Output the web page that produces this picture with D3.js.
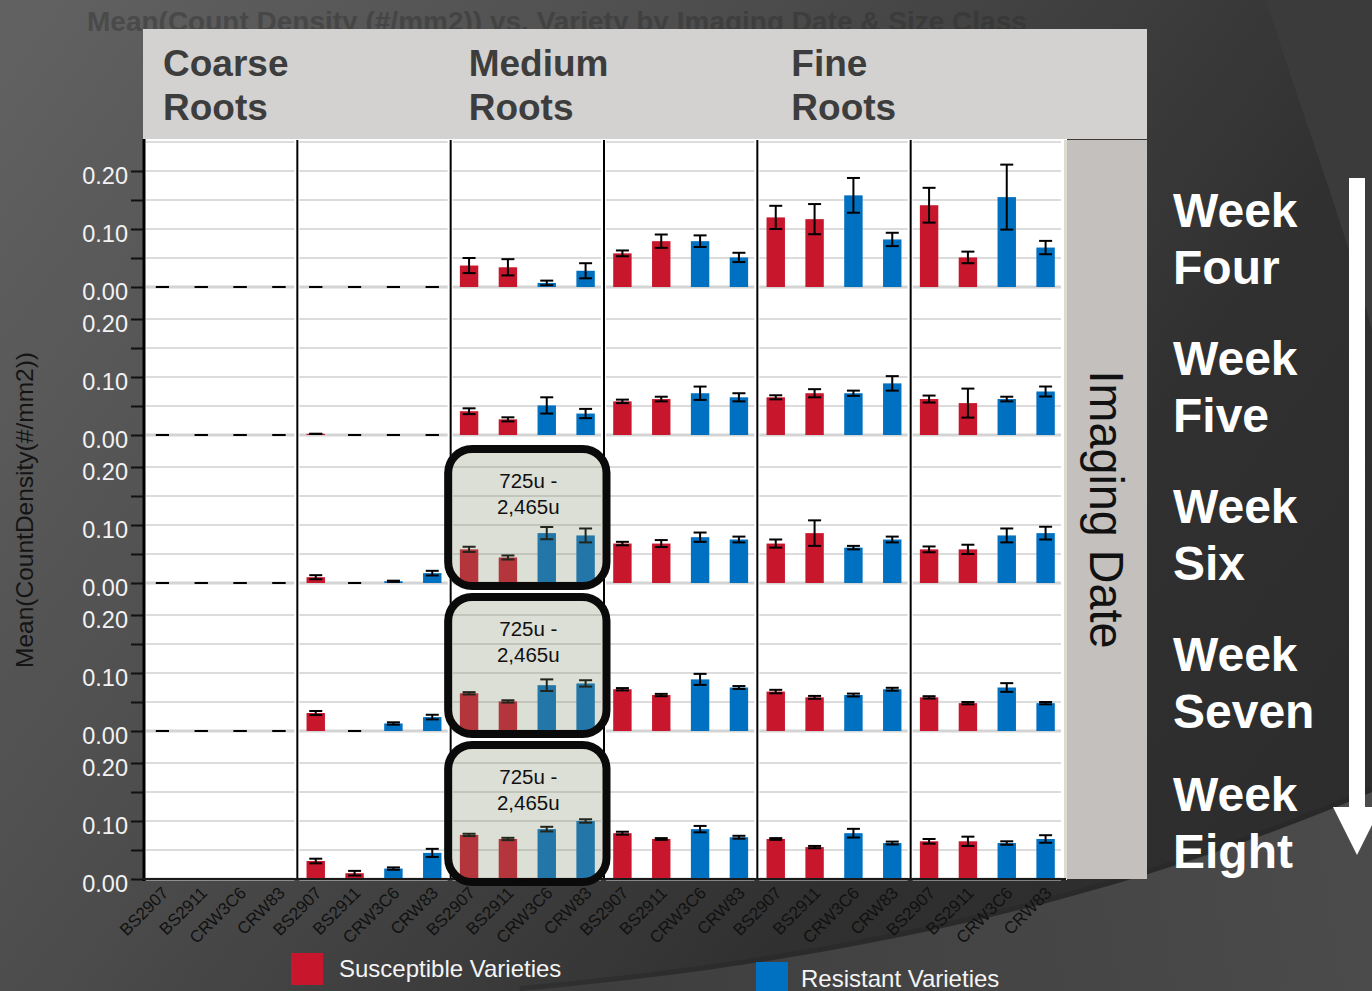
<!DOCTYPE html>
<html>
<head>
<meta charset="utf-8">
<script src="https://cdn.jsdelivr.net/npm/d3@7"></script>
<style>
  html, body { margin: 0; padding: 0; background: #3a3a3a; }
  svg { display: block; font-family: "Liberation Sans", Arial, Helvetica, sans-serif; }
</style>
</head>
<body>
<svg id="chart" width="1372" height="991"></svg>
<script>
// ---- data -------------------------------------------------------------
const varieties = ["BS2907", "BS2911", "CRW3C6", "CRW83"];
const varietyGroup = ["Susceptible", "Susceptible", "Resistant", "Resistant"];
const sizeClasses = ["Coarse Roots", "Medium Roots", "Fine Roots"];
const columnKeys = ["c1", "c2", "c3", "c4", "c5", "c6"];   // two size sub-classes per class
const weeks = ["Week Four", "Week Five", "Week Six", "Week Seven", "Week Eight"];
const gridValues = [0, 0.05, 0.10, 0.15, 0.20];
const tickLabelValues = [0, 0.10, 0.20];
const legendLabels = ["Susceptible Varieties", "Resistant Varieties"];
const highlightLabel = ["725u -", "2,465u"];
const highlightWeeks = ["Week Six", "Week Seven", "Week Eight"];
const highlightColumn = "c3";

// mean count density, one row per size column, one value per variety
const week4Mean = [
  [0, 0, 0, 0],
  [0, 0, 0, 0],
  [0.037, 0.034, 0.007, 0.028],
  [0.058, 0.079, 0.079, 0.051],
  [0.120, 0.117, 0.158, 0.082],
  [0.141, 0.051, 0.155, 0.068]
];
const week4Err = [
  [0, 0, 0, 0],
  [0, 0, 0, 0],
  [0.013, 0.014, 0.004, 0.013],
  [0.005, 0.0115, 0.010, 0.008],
  [0.020, 0.026, 0.030, 0.0115],
  [0.030, 0.010, 0.056, 0.0115]
];
const week5Mean = [
  [0, 0, 0, 0],
  [0.002, 0, 0, 0],
  [0.041, 0.027, 0.051, 0.037],
  [0.058, 0.062, 0.072, 0.065],
  [0.065, 0.072, 0.072, 0.089],
  [0.062, 0.055, 0.062, 0.075]
];
const week5Err = [
  [0, 0, 0, 0],
  [0, 0, 0, 0],
  [0.005, 0.0035, 0.014, 0.008],
  [0.003, 0.004, 0.0115, 0.007],
  [0.0035, 0.007, 0.0045, 0.0125],
  [0.006, 0.025, 0.004, 0.0086]
];
const week6Mean = [
  [0, 0, 0, 0],
  [0.010, 0, 0.003, 0.017],
  [0.058, 0.044, 0.086, 0.082],
  [0.068, 0.068, 0.079, 0.075],
  [0.068, 0.086, 0.061, 0.075],
  [0.058, 0.058, 0.082, 0.086]
];
const week6Err = [
  [0, 0, 0, 0],
  [0.0035, 0, 0.001, 0.004],
  [0.0045, 0.0035, 0.0105, 0.012],
  [0.003, 0.006, 0.008, 0.005],
  [0.007, 0.022, 0.003, 0.005],
  [0.005, 0.008, 0.012, 0.011]
];
const week7Mean = [
  [0, 0, 0, 0],
  [0.031, 0, 0.013, 0.024],
  [0.065, 0.051, 0.079, 0.082],
  [0.072, 0.062, 0.089, 0.075],
  [0.068, 0.058, 0.062, 0.072],
  [0.058, 0.048, 0.075, 0.048]
];
const week7Err = [
  [0, 0, 0, 0],
  [0.0035, 0, 0.002, 0.004],
  [0.002, 0.002, 0.010, 0.0055],
  [0.002, 0.002, 0.0095, 0.0025],
  [0.003, 0.0025, 0.0025, 0.0025],
  [0.002, 0.002, 0.0075, 0.002]
];
const week8Mean = [
  [0, 0, 0, 0],
  [0.031, 0.010, 0.018, 0.045],
  [0.076, 0.069, 0.086, 0.100],
  [0.079, 0.069, 0.086, 0.072],
  [0.069, 0.055, 0.079, 0.062],
  [0.065, 0.065, 0.062, 0.069]
];
const week8Err = [
  [0, 0, 0, 0],
  [0.004, 0.004, 0.002, 0.007],
  [0.002, 0.002, 0.004, 0.003],
  [0.0025, 0.0015, 0.0055, 0.0025],
  [0.0015, 0.002, 0.0075, 0.0025],
  [0.004, 0.008, 0.003, 0.0065]
];

const meansByWeek = [week4Mean, week5Mean, week6Mean, week7Mean, week8Mean];
const errsByWeek = [week4Err, week5Err, week6Err, week7Err, week8Err];

// flat records for drawing
const records = [];
weeks.forEach((w, wi) => {
  columnKeys.forEach((c, ci) => {
    varieties.forEach((v, vi) => {
      records.push({ week: w, col: c, variety: v, group: varietyGroup[vi],
                     mean: meansByWeek[wi][ci][vi], err: errsByWeek[wi][ci][vi] });
    });
  });
});

// ---- layout -----------------------------------------------------------
const W = 1372, H = 991;
const colorOf = d3.scaleOrdinal().domain(["Susceptible", "Resistant"]).range(["#c8172c", "#0070c0"]);

const col = d3.scaleBand().domain(columnKeys).range([144, 1064]);
const row = d3.scaleBand().domain(weeks).range([140, 880]);
const x = d3.scaleBand().domain(varieties).range([0, col.bandwidth()])
  .paddingInner(0.526).paddingOuter(0.237);
const yOf = week => {
  const zero = row(week) + row.bandwidth() - 1;
  return d3.scaleLinear().domain([0, 0.25]).range([zero, zero - 145]);
};

const svg = d3.select("#chart");
const defs = svg.append("defs");

// ---- slide background ---------------------------------------------------
const bg = defs.append("linearGradient").attr("id", "bgGrad")
  .attr("gradientUnits", "userSpaceOnUse")
  .attr("x1", 0).attr("y1", 0).attr("x2", W).attr("y2", 1000);
bg.append("stop").attr("offset", 0).attr("stop-color", "#626262");
bg.append("stop").attr("offset", 0.35).attr("stop-color", "#4d4d4d");
bg.append("stop").attr("offset", 0.7).attr("stop-color", "#303030");
bg.append("stop").attr("offset", 1).attr("stop-color", "#2b2b2b");

const swoosh = defs.append("linearGradient").attr("id", "swooshGrad")
  .attr("gradientUnits", "userSpaceOnUse")
  .attr("x1", 500).attr("y1", 991).attr("x2", W).attr("y2", 850);
swoosh.append("stop").attr("offset", 0).attr("stop-color", "#3d3d3d");
swoosh.append("stop").attr("offset", 1).attr("stop-color", "#4b4b4b");

svg.append("rect").attr("width", W).attr("height", H).attr("fill", "url(#bgGrad)");
svg.append("path")
  .attr("d", "M1266,0 C1300,110 1340,210 1372,330 L1372,0 Z")
  .attr("fill", "#3b3b3b");
svg.append("path")
  .attr("d", "M520,991 C820,965 1110,905 1372,792")
  .attr("fill", "none").attr("stroke", "#232323").attr("stroke-width", 10).attr("opacity", 0.35);
svg.append("path")
  .attr("d", "M520,991 C820,965 1110,905 1372,792 L1372,991 Z")
  .attr("fill", "url(#swooshGrad)");

// faint slide title behind the header band
svg.append("text")
  .attr("x", 87).attr("y", 31)
  .attr("font-size", 28).attr("font-weight", "bold")
  .attr("fill", "#2a2a2a").attr("opacity", 0.38)
  .text("Mean(Count Density (#/mm2)) vs. Variety by Imaging Date & Size Class");

// ---- header band and side strip -----------------------------------------
svg.append("rect").attr("x", 143).attr("y", 29).attr("width", 1004).attr("height", 110)
  .attr("fill", "#d3d2d0");
const headerOffset = [19, 18, 34];
sizeClasses.forEach((s, i) => {
  const t = svg.append("text")
    .attr("font-size", 37).attr("font-weight", "bold").attr("fill", "#3d3d3d");
  s.split(" ").forEach((word, k) => {
    t.append("tspan").attr("x", col(columnKeys[i * 2]) + headerOffset[i])
      .attr("y", 76 + k * 44).text(word);
  });
});

// plot background
svg.append("rect").attr("x", 143).attr("y", 139).attr("width", 924).attr("height", 741)
  .attr("fill", "#ffffff");

svg.append("rect").attr("x", 1067).attr("y", 140).attr("width", 80).attr("height", 739)
  .attr("fill", "#c3c0bd");
svg.append("text")
  .attr("transform", `translate(1090, ${(140 + 879) / 2}) rotate(90)`)
  .attr("text-anchor", "middle")
  .attr("font-size", 48).attr("fill", "#111")
  .attr("textLength", 278).attr("lengthAdjust", "spacingAndGlyphs")
  .text("Imaging Date");

// ---- panels -------------------------------------------------------------
const panels = svg.append("g");
weeks.forEach(w => {
  const y = yOf(w);
  columnKeys.forEach(c => {
    const g = panels.append("g");
    const x0 = col(c) + 2, x1 = col(c) + col.bandwidth() - 3;
    const lines = w === weeks[0] ? gridValues.concat([0.25]) : gridValues;
    g.selectAll("line.grid").data(lines).join("line")
      .attr("class", "grid")
      .attr("x1", x0).attr("x2", x1)
      .attr("y1", d => y(d)).attr("y2", d => y(d))
      .attr("stroke", d => d === 0 ? "#d4d4d4" : "#dcdcdc")
      .attr("stroke-width", d => d === 0 ? 3 : 2);

    const data = records.filter(r => r.week === w && r.col === c);
    g.selectAll("rect.bar").data(data).join("rect")
      .attr("class", "bar")
      .attr("x", d => col(c) + x(d.variety))
      .attr("width", x.bandwidth())
      .attr("y", d => y(d.mean))
      .attr("height", d => y(0) - y(d.mean))
      .attr("fill", d => colorOf(d.group));

    const cx = d => col(c) + x(d.variety) + x.bandwidth() / 2;
    const eb = g.selectAll("g.err").data(data).join("g").attr("class", "err")
      .attr("stroke", "#000").attr("stroke-width", 2);
    eb.append("line")
      .attr("x1", cx).attr("x2", cx)
      .attr("y1", d => y(d.mean + d.err)).attr("y2", d => y(Math.max(0, d.mean - d.err)));
    eb.append("line")
      .attr("x1", d => cx(d) - 6.5).attr("x2", d => cx(d) + 6.5)
      .attr("y1", d => y(d.mean + d.err)).attr("y2", d => y(d.mean + d.err));
    eb.append("line")
      .attr("x1", d => cx(d) - 6.5).attr("x2", d => cx(d) + 6.5)
      .attr("y1", d => y(Math.max(0, d.mean - d.err))).attr("y2", d => y(Math.max(0, d.mean - d.err)));
  });

  // left value axis for this row
  const axis = d3.axisLeft(y).tickValues(gridValues).tickSize(12).tickPadding(3)
    .tickFormat(d => tickLabelValues.includes(d) ? d3.format(".2f")(d) : "");
  const ag = svg.append("g").attr("transform", "translate(143,0)").call(axis);
  ag.select(".domain").remove();
  ag.selectAll(".tick line").attr("stroke", "#111").attr("stroke-width", 2);
  ag.selectAll(".tick text").attr("fill", "#f2f2f2").attr("font-size", 23.5)
    .attr("font-family", "Liberation Sans, Arial, sans-serif").attr("dy", "0.52em");
});

// column separators and frame
svg.selectAll("line.sep").data(columnKeys.slice(1)).join("line")
  .attr("class", "sep")
  .attr("x1", d => col(d)).attr("x2", d => col(d))
  .attr("y1", 140).attr("y2", 879)
  .attr("stroke", "#000").attr("stroke-width", 2);
svg.append("line").attr("x1", 144).attr("x2", 144).attr("y1", 139).attr("y2", 881)
  .attr("stroke", "#000").attr("stroke-width", 3);
svg.append("line").attr("x1", 1065.5).attr("x2", 1065.5).attr("y1", 140).attr("y2", 879)
  .attr("stroke", "#dedbd0").attr("stroke-width", 3);
svg.append("line").attr("x1", 143).attr("x2", 1066).attr("y1", 879).attr("y2", 879)
  .attr("stroke", "#1a1a1a").attr("stroke-width", 2);

// variety labels under the bottom row
const xl = svg.append("g");
columnKeys.forEach(c => {
  varieties.forEach(v => {
    xl.append("text")
      .attr("transform", `translate(${col(c) + x(v) + x.bandwidth() / 2 + 7}, 894) rotate(-45)`)
      .attr("text-anchor", "end")
      .attr("font-size", 17).attr("fill", "#111")
      .text(v);
  });
});

// ---- highlighted size class panels ----------------------------------------
highlightWeeks.forEach(w => {
  const y = yOf(w);
  const zero = y(0);
  const left = col(highlightColumn);
  svg.append("rect")
    .attr("x", left - 2.5).attr("y", zero - 134)
    .attr("width", col.bandwidth() + 5).attr("height", 137)
    .attr("rx", 24).attr("ry", 24)
    .attr("fill", "rgb(126,137,104)").attr("fill-opacity", 0.27)
    .attr("stroke", "#0a0a0a").attr("stroke-width", 8);
  highlightLabel.forEach((t, k) => {
    svg.append("text")
      .attr("x", left + col.bandwidth() / 2 + 1)
      .attr("y", zero - 95 + k * 26)
      .attr("text-anchor", "middle")
      .attr("font-size", 20.5).attr("fill", "#111")
      .text(t);
  });
});

// ---- y title -------------------------------------------------------------
svg.append("text")
  .attr("transform", `translate(33, 510) rotate(-90)`)
  .attr("text-anchor", "middle")
  .attr("font-size", 24).attr("fill", "#141414")
  .attr("textLength", 316).attr("lengthAdjust", "spacingAndGlyphs")
  .text("Mean(CountDensity(#/mm2))");

// ---- week labels and time arrow ---------------------------------------------
weeks.forEach((w, i) => {
  const zero = yOf(w)(0);
  const t = svg.append("text").attr("font-size", 48).attr("font-weight", "bold").attr("fill", "#ffffff");
  const base = zero - (i === weeks.length - 1 ? 68 : 60);
  w.split(" ").forEach((word, k) => {
    t.append("tspan").attr("x", 1173).attr("y", base + k * 57).text(word);
  });
});
svg.append("rect").attr("x", 1349).attr("y", 178).attr("width", 16).attr("height", 632).attr("fill", "#ffffff");
svg.append("path").attr("d", "M1333,807 L1381,807 L1357,855 Z").attr("fill", "#ffffff");

// ---- legend --------------------------------------------------------------
const legendPos = [{ sx: 291, sy: 953, tx: 339, ty: 977 }, { sx: 756, sy: 962, tx: 801, ty: 987 }];
["Susceptible", "Resistant"].forEach((grp, i) => {
  const p = legendPos[i];
  svg.append("rect").attr("x", p.sx).attr("y", p.sy).attr("width", 32).attr("height", 32)
    .attr("fill", colorOf(grp));
  svg.append("text").attr("x", p.tx).attr("y", p.ty)
    .attr("font-size", 24).attr("fill", "#f4f4f4").text(legendLabels[i]);
});
</script>
</body>
</html>
